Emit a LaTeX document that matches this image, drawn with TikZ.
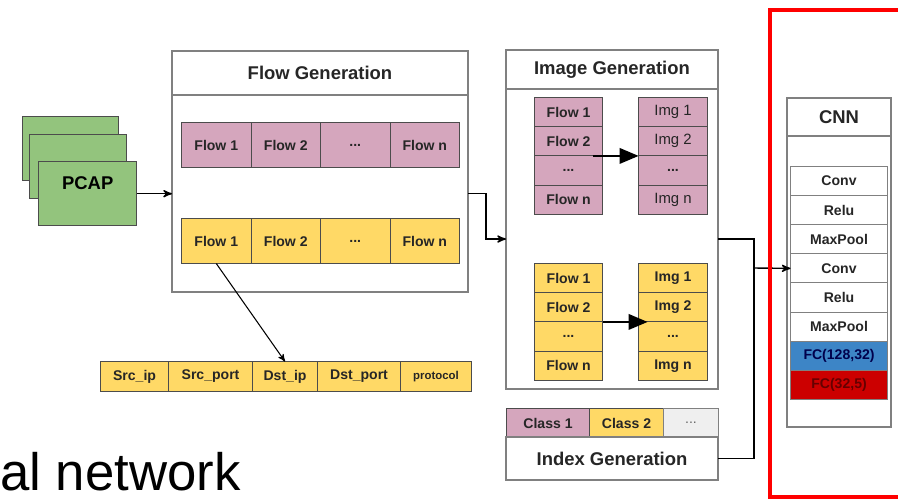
\documentclass[tikz,border=0pt]{standalone}
\usepackage{fontspec}
\setmainfont{Liberation Sans}
\usepackage{tikz}
\usetikzlibrary{matrix,shapes,arrows,positioning}

\definecolor{flowpink}{HTML}{D5A6BD}
\definecolor{flowyellow}{HTML}{FFD966}
\definecolor{pcapgreen}{HTML}{93C47D}
\definecolor{fcblue}{HTML}{3D85C6}
\definecolor{fcred}{HTML}{CC0000}
\definecolor{lightgrey}{HTML}{EFEFEF}
\newlength{\pxlen}
\setlength{\pxlen}{0.02cm}

\begin{document}
\begin{tikzpicture}[x=\pxlen, y=-\pxlen, >=stealth']
      \tikzstyle{point} = [coordinate]
      \tikzstyle{box} = [rectangle, draw=black!50, line width=0.8pt, fill=white, inner sep=0pt, outer sep=0pt, anchor=north west]
      \tikzstyle{title} = [box, font=\bfseries\fontsize{10.5}{12}\selectfont, text=black!85]
      \tikzstyle{cell} = [rectangle, draw=black!70, line width=0.6pt, inner sep=0pt, outer sep=0pt, font=\bfseries\fontsize{8}{9.5}\selectfont, text=black!85]
      \tikzstyle{pinkcell} = [cell, fill=flowpink]
      \tikzstyle{yellowcell} = [cell, fill=flowyellow]
      \tikzstyle{fgcell} = [minimum width=69.5\pxlen, minimum height=45\pxlen]
      \tikzstyle{flowcol} = [minimum width=68\pxlen, minimum height=29.2\pxlen]
      \tikzstyle{imgcol} = [minimum width=69\pxlen, minimum height=29.2\pxlen]
      \tikzstyle{layer} = [cell, draw=black!50, fill=white, minimum width=97\pxlen, minimum height=29.1\pxlen]
      \tikzstyle{pcap} = [rectangle, draw=black!70, fill=pcapgreen, line width=0.8pt, anchor=north west, minimum height=64\pxlen]
      \tikzstyle{block} = [inner sep=0pt, outer sep=0pt, anchor=north west, column sep=-0.6pt, row sep=-0.6pt]
      \tikzstyle{bigarrow} = [line width=1.5pt, -triangle 45]
      \useasboundingbox (0,0) rectangle (898,501);

      % pcap files
      \node (pcap3) [pcap, minimum width=96\pxlen] at (22,116) {};
      \node (pcap2) [pcap, minimum width=97\pxlen] at (29,134) {};
      \node (pcap1) [pcap, minimum width=98\pxlen, text depth=22\pxlen, font=\bfseries\fontsize{10.5}{12}\selectfont] at (38,161) {PCAP};

      % flow generation
      \node (fgtitle) [title, minimum width=296\pxlen, minimum height=44\pxlen] at (172,51) {Flow Generation};
      \node (fgbody) [box, minimum width=296\pxlen, minimum height=197\pxlen] at (172,95) {};
      \matrix (fgpink) [block] at (181,122) {
        \node (fp1) [pinkcell, fgcell] {Flow 1};&
        \node (fp2) [pinkcell, fgcell] {Flow 2};&
        \node (fp3) [pinkcell, fgcell] {...};&
        \node (fp4) [pinkcell, fgcell] {Flow n};\\
      };
      \matrix (fgyellow) [block] at (181,218) {
        \node (fy1) [yellowcell, fgcell] {Flow 1};&
        \node (fy2) [yellowcell, fgcell] {Flow 2};&
        \node (fy3) [yellowcell, fgcell] {...};&
        \node (fy4) [yellowcell, fgcell] {Flow n};\\
      };

      % five tuple
      \matrix (tuple) [block] at (100,361) {
        \node (srcip) [yellowcell, minimum width=68\pxlen, minimum height=30\pxlen] {Src\_ip};&
        \node (srcport) [yellowcell, minimum width=84\pxlen, minimum height=30\pxlen] {Src\_port};&
        \node (dstip) [yellowcell, minimum width=65\pxlen, minimum height=30\pxlen] {Dst\_ip};&
        \node (dstport) [yellowcell, minimum width=83\pxlen, minimum height=30\pxlen] {Dst\_port};&
        \node (proto) [yellowcell, minimum width=71\pxlen, minimum height=30\pxlen, font=\bfseries\fontsize{6.5}{8}\selectfont] {protocol};\\
      };

      % image generation
      \node (igtitle) [title, minimum width=212\pxlen, minimum height=39\pxlen] at (506,50) {Image Generation};
      \node (igbody) [box, minimum width=212\pxlen, minimum height=300\pxlen] at (506,89) {};
      \matrix (ipflow) [block] at (534,97) {
        \node (ipf1) [pinkcell, flowcol] {Flow 1};\\
        \node (ipf2) [pinkcell, flowcol] {Flow 2};\\
        \node (ipf3) [pinkcell, flowcol] {...};\\
        \node (ipf4) [pinkcell, flowcol] {Flow n};\\
      };
      \matrix (ipimg) [block] at (638,97) {
        \node (ipi1) [pinkcell, imgcol, font=\fontsize{8.5}{10}\selectfont] {Img 1};\\
        \node (ipi2) [pinkcell, imgcol, font=\fontsize{8.5}{10}\selectfont] {Img 2};\\
        \node (ipi3) [pinkcell, imgcol] {...};\\
        \node (ipi4) [pinkcell, imgcol, font=\fontsize{8.5}{10}\selectfont] {Img n};\\
      };
      \matrix (iyflow) [block] at (534,263) {
        \node (iyf1) [yellowcell, flowcol] {Flow 1};\\
        \node (iyf2) [yellowcell, flowcol] {Flow 2};\\
        \node (iyf3) [yellowcell, flowcol] {...};\\
        \node (iyf4) [yellowcell, flowcol] {Flow n};\\
      };
      \matrix (iyimg) [block] at (638,263) {
        \node (iyi1) [yellowcell, imgcol] {Img 1};\\
        \node (iyi2) [yellowcell, imgcol] {Img 2};\\
        \node (iyi3) [yellowcell, imgcol] {...};\\
        \node (iyi4) [yellowcell, imgcol] {Img n};\\
      };

      % index generation
      \matrix (classes) [block] at (506,408) {
        \node (cls1) [pinkcell, minimum width=83\pxlen, minimum height=29\pxlen] {Class 1};&
        \node (cls2) [yellowcell, minimum width=74\pxlen, minimum height=29\pxlen] {Class 2};&
        \node (cls3) [cell, fill=lightgrey, draw=black!50, text=black!60, font=\fontsize{8}{9.5}\selectfont, minimum width=55\pxlen, minimum height=29\pxlen] {...};\\
      };
      \node (ixbody) [title, minimum width=212\pxlen, minimum height=43\pxlen] at (506,437) {Index Generation};

      % cnn
      \node (cnntitle) [title, minimum width=104\pxlen, minimum height=38\pxlen] at (787,98) {CNN};
      \node (cnnbody) [box, minimum width=104\pxlen, minimum height=291\pxlen] at (787,136) {};
      \matrix (layers) [block] at (790,166) {
        \node (conv1) [layer] {Conv};\\
        \node (relu1) [layer] {Relu};\\
        \node (pool1) [layer] {MaxPool};\\
        \node (conv2) [layer] {Conv};\\
        \node (relu2) [layer] {Relu};\\
        \node (pool2) [layer] {MaxPool};\\
        \node (fc1) [layer, fill=fcblue, text=blue!30!black] {FC(128,32)};\\
        \node (fc2) [layer, fill=fcred, text=red!40!black] {FC(32,5)};\\
      };

      % connections
      \draw [thick,->] (pcap1.east)--(pcap1.east -| fgbody.west);
      \draw [thick,->] (fgbody.east)--++(18,0) |- (igbody.west);
      \draw [semithick,->] (fy1.south)--(dstip.north);
      \draw [bigarrow] ([xshift=-10\pxlen]ipf2.south east)--(ipi2.south west);
      \draw [bigarrow] (iyf2.south east)--([xshift=9\pxlen]iyi2.south west);
      \node (junc) [point] at (754,268) {};
      \draw [thick] (igbody.east) -| (junc);
      \draw [thick] (ixbody.east) -| (junc);
      \draw [thick,->] (junc)--(conv2.west);

      % highlight frame
      \draw [red, line width=2.8pt] (910,10) -| (770,497) -- (910,497);

      \node (caption) [anchor=base west, inner sep=0pt, font=\fontsize{30}{32}\selectfont] at (0,490) {al network};
\end{tikzpicture}
\end{document}
